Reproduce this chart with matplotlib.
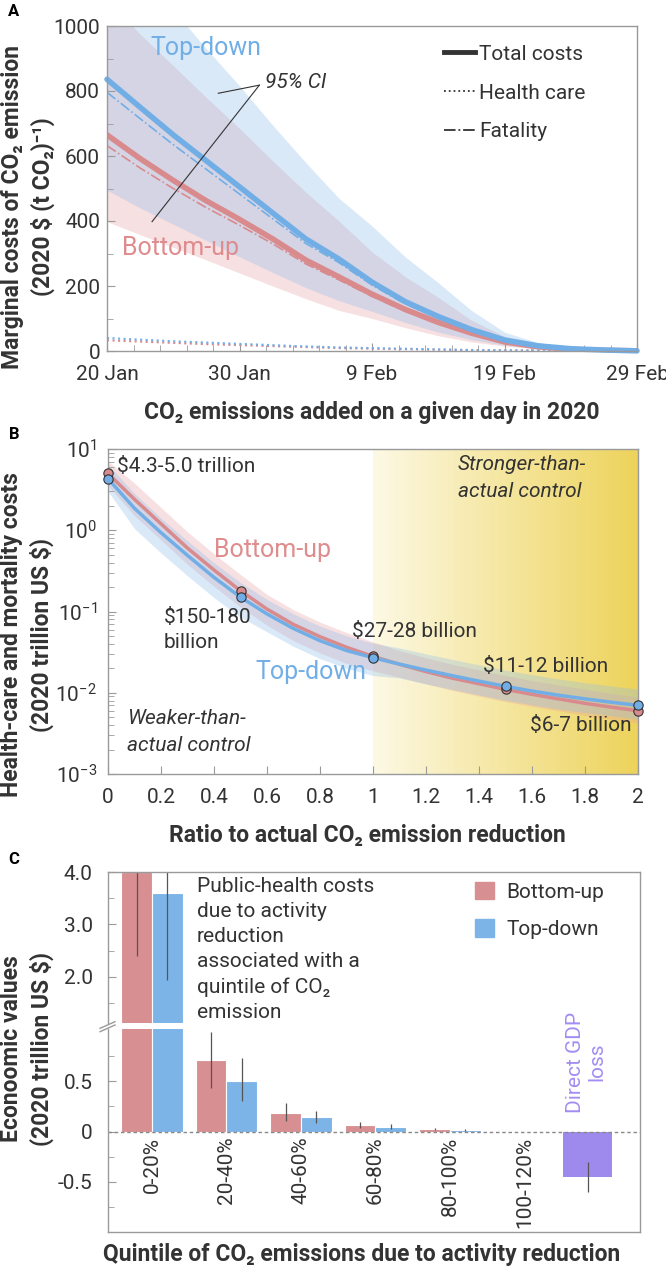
import matplotlib
matplotlib.use("Agg")
import matplotlib.pyplot as plt
import numpy as np
from matplotlib.colors import LinearSegmentedColormap
from matplotlib.lines import Line2D
from matplotlib.patches import Patch

plt.rcParams['font.family'] = ['Roboto', 'DejaVu Sans']
plt.rcParams['mathtext.fontset'] = 'custom'
plt.rcParams['mathtext.rm'] = 'Roboto'
plt.rcParams['mathtext.it'] = 'Roboto:italic'
plt.rcParams['mathtext.bf'] = 'Roboto:bold'
plt.rcParams['axes.unicode_minus'] = False
plt.rcParams['text.color'] = '#333333'

# ---- panel A: marginal costs by day (days after 20 Jan) ----
days = [0, 2.5, 5, 7.5, 10, 12.5, 15, 17.5, 20, 22.5, 25, 27.5, 30, 32.5, 35, 37.5, 40]
day_ticks = [0, 10, 20, 30, 40]
day_labels = ["20 Jan", "30 Jan", "9 Feb", "19 Feb", "29 Feb"]

td_total = [836, 750, 665, 585, 505, 425, 345, 283, 212, 152, 106, 66, 34, 16, 7, 3, 0.5]
td_health = [40, 35, 30, 26, 22, 18, 14, 11, 9, 7, 5, 3, 2, 1.5, 1, 0.5, 0]
td_fatal = [796, 715, 635, 559, 483, 407, 331, 272, 203, 145, 101, 63, 32, 14.5, 6, 2.5, 0.5]
td_hi_a = [1350, 1195, 1050, 930, 816, 695, 580, 470, 385, 290, 210, 125, 58, 26, 11, 4, 0]
td_lo_a = [495, 440, 390, 340, 290, 242, 195, 155, 122, 88, 58, 35, 18, 8, 4, 1, 0]

bu_total = [665, 592, 525, 462, 405, 345, 280, 228, 175, 128, 88, 55, 28, 13, 5, 2, 0.5]
bu_health = [33, 29, 25, 21, 18, 15, 12, 9, 7, 5.5, 4, 3, 2, 1, 0.5, 0.3, 0]
bu_fatal = [632, 563, 500, 441, 387, 330, 268, 219, 168, 122.5, 84, 52, 26, 12, 4.5, 1.7, 0.5]
bu_hi_a = [1080, 975, 878, 780, 685, 585, 489, 400, 305, 229, 165, 95, 45, 18, 6, 2, 0]
bu_lo_a = [398, 358, 319, 280, 240, 200, 161, 125, 100, 72, 47, 28, 15, 7, 3, 1, 0]

# ---- panel B: costs vs ratio to actual reduction ----
ratio = [0, 0.1, 0.2, 0.3, 0.4, 0.5, 0.6, 0.7, 0.8, 0.9, 1.0,
         1.1, 1.2, 1.3, 1.4, 1.5, 1.6, 1.7, 1.8, 1.9, 2.0]
bu_cost = [5.0, 2.40, 1.20, 0.603, 0.324, 0.18, 0.107, 0.0692, 0.049, 0.0363, 0.028,
           0.0224, 0.0182, 0.0151, 0.0129, 0.011, 0.00955, 0.00841, 0.00741, 0.00664, 0.006]
bu_cost_hi = [7.08, 3.80, 1.905, 0.955, 0.513, 0.285, 0.162, 0.105, 0.0741, 0.055, 0.0424,
              0.0331, 0.0269, 0.0224, 0.0191, 0.0163, 0.0141, 0.01245, 0.011, 0.0098, 0.0089]
bu_cost_lo = [3.55, 1.51, 0.759, 0.380, 0.204, 0.1135, 0.0676, 0.0437, 0.0309, 0.0229, 0.0186,
              0.0155, 0.0129, 0.0107, 0.0091, 0.0078, 0.0068, 0.006, 0.00525, 0.0047, 0.00425]
td_cost = [4.3, 1.86, 0.933, 0.49, 0.263, 0.15, 0.0933, 0.0617, 0.0437, 0.0331, 0.027,
           0.0225, 0.019, 0.0162, 0.0139, 0.012, 0.0105, 0.00933, 0.00841, 0.00764, 0.007]
td_cost_hi = [6.5, 2.82, 1.41, 0.741, 0.398, 0.227, 0.141, 0.0933, 0.0661, 0.0501, 0.0408,
              0.0356, 0.0301, 0.0257, 0.022, 0.019, 0.0167, 0.0148, 0.0133, 0.0121, 0.0111]
td_cost_lo = [3.02, 1.047, 0.525, 0.275, 0.148, 0.0851, 0.0562, 0.0372, 0.0263, 0.02, 0.0163,
              0.0152, 0.0128, 0.011, 0.0094, 0.0081, 0.0071, 0.0063, 0.0057, 0.0052, 0.0047]

pt_ratio = [0, 0.5, 1.0, 1.5, 2.0]
pt_bu = [5.0, 0.18, 0.028, 0.011, 0.006]
pt_td = [4.3, 0.15, 0.027, 0.012, 0.007]
ratio_ticks = [0, 0.2, 0.4, 0.6, 0.8, 1, 1.2, 1.4, 1.6, 1.8, 2]
ratio_labels = ["0", "0.2", "0.4", "0.6", "0.8", "1", "1.2", "1.4", "1.6", "1.8", "2"]

# ---- panel C: quintile bars ----
quintiles = ["0-20%", "20-40%", "40-60%", "60-80%", "80-100%", "100-120%"]
bu_bar = [4.0, 0.71, 0.187, 0.064, 0.024]
bu_err_lo = [2.39, 0.43, 0.107, 0.035, 0.012]
bu_err_hi = [4.6, 0.99, 0.28, 0.09, 0.035]
td_bar = [3.6, 0.50, 0.14, 0.047, 0.014]
td_err_lo = [1.94, 0.30, 0.08, 0.02, 0.008]
td_err_hi = [4.5, 0.73, 0.207, 0.07, 0.02]
gdp_loss = -0.45
gdp_err = [-0.60, -0.30]

RED = '#D98A8C'
BLUE = '#72AEE6'
GRAY = '#9a9a9a'
TXT = '#333333'


def style(ax):
    for s in ax.spines.values():
        s.set_color(GRAY)
        s.set_linewidth(1)
    ax.tick_params(which='both', direction='in', colors=GRAY, labelcolor=TXT, labelsize=15)
    ax.tick_params(which='major', length=6)
    ax.tick_params(which='minor', length=4)


fig = plt.figure(figsize=(6.66, 12.69), dpi=100)
W, H = 666.0, 1269.0

axA = fig.add_axes([107 / W, 1 - 351 / H, 530 / W, 325 / H])
axB = fig.add_axes([108 / W, 1 - 774 / H, 530 / W, 325 / H])
axCu = fig.add_axes([108 / W, 1 - 1023 / H, 532 / W, 151 / H])
axCl = fig.add_axes([108 / W, 1 - 1232 / H, 532 / W, 203 / H])

# ================= A =================
style(axA)
axA.fill_between(days, bu_lo_a, bu_hi_a, color='#E8A0A2', alpha=0.32, lw=0)
axA.fill_between(days, td_lo_a, td_hi_a, color='#8DBDEB', alpha=0.32, lw=0)
axA.plot(days, bu_health, color=RED, lw=1.5, ls=':')
axA.plot(days, td_health, color=BLUE, lw=1.5, ls=':')
axA.plot(days, bu_fatal, color=RED, lw=1.2, ls='-.')
axA.plot(days, td_fatal, color=BLUE, lw=1.2, ls='-.')
axA.plot(days, bu_total, color=RED, lw=4, solid_capstyle='round')
axA.plot(days, td_total, color=BLUE, lw=4, solid_capstyle='round', clip_on=False)
axA.set_xlim(0, 40)
axA.set_ylim(0, 1000)
axA.set_xticks(day_ticks)
axA.set_xticklabels(day_labels)
axA.set_xticks(np.arange(0, 41, 2), minor=True)
axA.set_yticks([0, 200, 400, 600, 800, 1000])
axA.set_yticks(np.arange(100, 1000, 200), minor=True)
axA.tick_params(axis='x', pad=10)
axA.tick_params(axis='y', pad=5)

axA.text(7.47, 932, "Top-down", color=BLUE, fontsize=18, ha='center', va='center')
axA.text(5.58, 317, "Bottom-up", color='#DF8C8E', fontsize=18, ha='center', va='center')
axA.plot([11.5, 8.4], [818, 793], color=TXT, lw=0.8)
axA.plot([11.5, 3.4], [818, 398], color=TXT, lw=0.8)
axA.text(11.9, 825, "95% CI", fontsize=15, style='italic', ha='left', va='center')

legA = [Line2D([], [], color=TXT, lw=3.5),
        Line2D([], [], color=TXT, lw=1.3, ls=':'),
        Line2D([], [], color=TXT, lw=1.3, ls='-.')]
axA.legend(legA, ["Total costs", "Health care", "Fatality"], loc='upper left',
           bbox_to_anchor=(0.6, 1.0), frameon=False, fontsize=15, handlelength=1.5,
           handletextpad=0.2, labelspacing=0.95, labelcolor=TXT)

# ================= B =================
style(axB)
grad = LinearSegmentedColormap.from_list('g', ['#FCF8E3', '#EDD35B'])
gx = np.linspace(1, 2, 101)
gy = np.array([1e-3, 1e1])
axB.pcolormesh(gx, gy, ((gx[:-1] + gx[1:]) / 2 - 1)[None, :], cmap=grad,
               shading='flat', zorder=0)
axB.fill_between(ratio, bu_cost_lo, bu_cost_hi, color='#E8A0A2', alpha=0.32, lw=0, zorder=1)
axB.fill_between(ratio, td_cost_lo, td_cost_hi, color='#8DBDEB', alpha=0.32, lw=0, zorder=1)
axB.plot(ratio, bu_cost, color=RED, lw=2.5, zorder=2)
axB.plot(ratio, td_cost, color=BLUE, lw=2.5, zorder=2)
axB.scatter(pt_ratio, pt_bu, s=45, color=RED, edgecolor='#333333', lw=0.8, zorder=3, clip_on=False)
axB.scatter(pt_ratio, pt_td, s=45, color=BLUE, edgecolor='#333333', lw=0.8, zorder=4, clip_on=False)
axB.set_yscale('log')
axB.set_xlim(0, 2)
axB.set_ylim(1e-3, 1e1)
axB.set_xticks(ratio_ticks)
axB.set_xticklabels(ratio_labels)
axB.tick_params(axis='x', pad=10)
axB.tick_params(axis='y', pad=8)
axB.set_axisbelow(False)

axB.text(0.62, 0.575, "Bottom-up", color='#DF8C8E', fontsize=18, ha='center', va='center')
axB.text(0.766, 0.0181, "Top-down", color=BLUE, fontsize=18, ha='center', va='center')
axB.text(0.034, 6.15, "$4.3-5.0 trillion", fontsize=15, ha='left', va='center')
axB.text(0.211, 0.11, "$150-180\nbillion", fontsize=15, ha='left', va='top', linespacing=1.4)
axB.text(0.92, 0.0573, "$27-28 billion", fontsize=15, ha='left', va='center')
axB.text(1.414, 0.0211, "$11-12 billion", fontsize=15, ha='left', va='center')
axB.text(1.976, 0.0039, "$6-7 billion", fontsize=15, ha='right', va='center')
axB.text(1.321, 8.4, "Stronger-than-\nactual control", fontsize=15, style='italic',
         ha='left', va='top', linespacing=1.5)
axB.text(0.072, 0.0063, "Weaker-than-\nactual control", fontsize=15, style='italic',
         ha='left', va='top', linespacing=1.5)

# ================= C =================
BU_C = '#D88F91'
TD_C = '#7DB4E7'
GDP_C = '#9D8AEC'
xq = np.arange(len(bu_bar))
for ax in (axCu, axCl):
    style(ax)
    ax.bar(xq - 0.205, bu_bar, width=0.41, color=BU_C, edgecolor='white', lw=0.8)
    ax.bar(xq + 0.205, td_bar, width=0.41, color=TD_C, edgecolor='white', lw=0.8)
    ax.vlines(xq - 0.205, bu_err_lo, bu_err_hi, color='#555555', lw=0.9)
    ax.vlines(xq + 0.205, td_err_lo, td_err_hi, color='#555555', lw=0.9)
    ax.bar([5.85], [gdp_loss], width=0.66, color=GDP_C)
    ax.vlines([5.85], gdp_err[0], gdp_err[1], color='#555555', lw=0.9)
    ax.set_xlim(-0.59, 6.55)
    ax.set_xticks([])
    ax.spines['right'].set_visible(False)

axCu.set_ylim(1.12, 4.0)
axCu.set_yticks([2.0, 3.0, 4.0])
axCu.set_yticklabels(["2.0", "3.0", "4.0"])
axCu.set_yticks([1.5, 2.5, 3.5], minor=True)
axCu.spines['bottom'].set_visible(False)
axCu.tick_params(axis='y', pad=11)

axCl.set_ylim(-1.0, 1.02)
axCl.set_yticks([-0.5, 0, 0.5])
axCl.set_yticklabels(["-0.5", "0", "0.5"])
axCl.set_yticks([-0.75, -0.25, 0.25, 0.75], minor=True)
axCl.spines['top'].set_visible(False)
axCl.tick_params(axis='y', pad=11)
axCl.axhline(0, color='#888888', ls=(0, (2.5, 2)), lw=1)

for i, q in enumerate(quintiles):
    axCl.text(i, -0.05, q, rotation=90, ha='center', va='top', fontsize=15)
axCl.text(5.83, 0.69, "Direct GDP\nloss", rotation=90, ha='center', va='center',
          color='#A38DF2', fontsize=15, clip_on=False, multialignment='center')

axCu.text(0.167, 0.967, "Public-health costs\ndue to activity\nreduction\nassociated with a\nquintile of CO₂\nemission",
          transform=axCu.transAxes, fontsize=15, ha='left', va='top', linespacing=1.4)
axCu.legend([Patch(color=BU_C), Patch(color=TD_C)], ["Bottom-up", "Top-down"],
            loc='upper left', bbox_to_anchor=(0.655, 1.06), frameon=False, fontsize=15,
            handlelength=0.9, handleheight=0.9, handletextpad=0.6, labelspacing=0.85,
            labelcolor=TXT)

# continuous right spine and break marks
fig.add_artist(Line2D([640 / W, 640 / W], [1 - 1232 / H, 1 - 872 / H], color=GRAY, lw=1))
fig.add_artist(Line2D([100 / W, 115 / W], [1 - 1028.3 / H, 1 - 1021.7 / H], color=GRAY, lw=1))
fig.add_artist(Line2D([100 / W, 115 / W], [1 - 1031.7 / H, 1 - 1025.0 / H], color=GRAY, lw=1))

# ---- axis labels ----
lab = dict(fontsize=16.5, fontweight='bold', ha='center', va='center', color=TXT, linespacing=1.3)
fig.text(28 / W, 1 - 207 / H, "Marginal costs of CO₂ emission\n(2020 $ (t CO₂)⁻¹)", rotation=90, **lab)
fig.text(372 / W, 1 - 412 / H, "CO₂ emissions added on a given day in 2020", **lab)
fig.text(27 / W, 1 - 635 / H, "Health-care and mortality costs\n(2020 trillion US $)", rotation=90, **lab)
fig.text(367 / W, 1 - 835 / H, "Ratio to actual CO₂ emission reduction", **lab)
fig.text(27 / W, 1 - 1049 / H, "Econoomic values\n(2020 trillion US $)", rotation=90, **lab)
fig.text(362 / W, 1 - 1255 / H, "Quintile of CO₂ emissions due to activity reduction", **lab)

for letter, yy in (("A", 12), ("B", 435), ("C", 859)):
    fig.text(14 / W, 1 - yy / H, letter, fontsize=12, fontweight='bold', ha='center', va='center', color='black')

fig.savefig("out.png", dpi=100)
